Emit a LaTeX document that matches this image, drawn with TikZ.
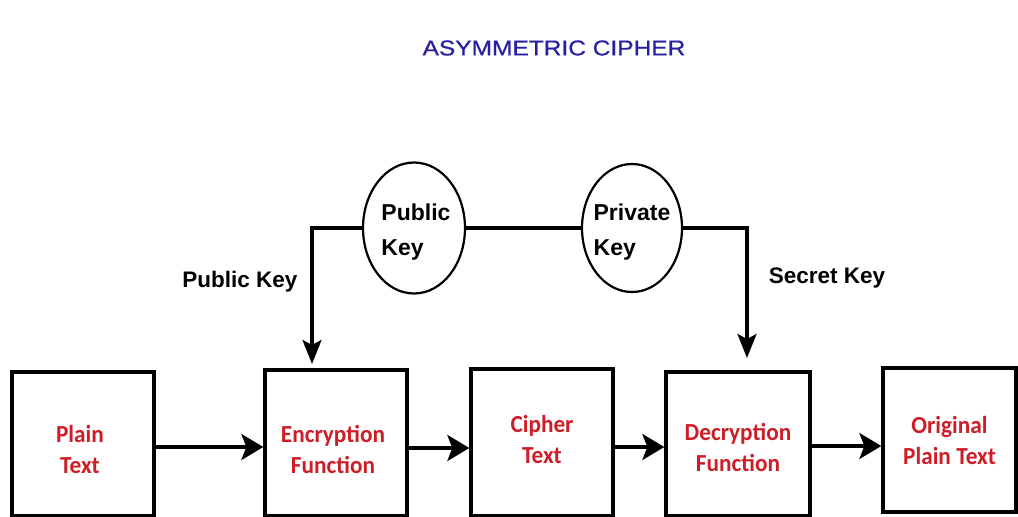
\documentclass[tikz,border=0pt]{standalone}
\usepackage{fontspec}
\setmainfont{Liberation Sans}
\newfontfamily\titlefont[FakeStretch=1.14,FakeBold=0.6]{Liberation Sans}
\newfontfamily\boxfont[FakeStretch=0.95]{Carlito}
\usetikzlibrary{arrows.meta,shapes.geometric}
\definecolor{titleblue}{RGB}{40,32,160}
\definecolor{boxred}{RGB}{205,30,40}
\begin{document}
\begin{tikzpicture}[x=1pt,y=-1pt,
  blk/.style={draw=black,line width=3.3pt,rectangle,inner sep=0pt},
  btxt/.style={inner sep=0pt,font=\boxfont\bfseries\fontsize{24.5}{31}\selectfont,text=boxred,align=center},
  keyell/.style={draw=black,line width=2.2pt,ellipse,inner sep=0pt},
  ktxt/.style={inner sep=0pt,font=\bfseries\fontsize{23}{35}\selectfont,align=left},
  lbl/.style={font=\bfseries\fontsize{22.5}{26}\selectfont},
  conn/.style={line width=3.2pt},
  harr/.style={conn,-{Stealth[length=22pt,width=26pt,inset=5pt]}},
  varr/.style={conn,-{Stealth[length=24pt,width=19pt,inset=5pt]}}]
\useasboundingbox[fill=white] (0,0) rectangle (1018,517);

\node[font=\titlefont\fontsize{21.5}{25}\selectfont,text=titleblue] (title) at (554,48) {ASYMMETRIC CIPHER};

\node[blk,minimum width=142pt,minimum height=144pt] (plain) at (83,444) {};
\node[blk,minimum width=142pt,minimum height=146pt] (enc) at (336,443) {};
\node[blk,minimum width=142pt,minimum height=147pt] (cipher) at (542,442.5) {};
\node[blk,minimum width=144pt,minimum height=144pt] (dec) at (738,444) {};
\node[blk,minimum width=133pt,minimum height=144pt] (orig) at (949.5,440) {};

\node[btxt] (plain-t) at ([xshift=-3pt,yshift=-5pt]plain.center) {Plain\\Text};
\node[btxt] (enc-t) at ([xshift=-3pt,yshift=-6pt]enc.center) {Encryption\\Function};
\node[btxt] (cipher-t) at ([yshift=3pt]cipher.center) {Cipher\\Text};
\node[btxt] (dec-t) at ([yshift=-3pt]dec.center) {Decryption\\Function};
\node[btxt] (orig-t) at (orig.center) {Original\\Plain Text};

\node[keyell,minimum width=102pt,minimum height=131pt] (pub) at (414,228) {};
\node[keyell,minimum width=100pt,minimum height=128pt] (priv) at (632,228) {};
\node[ktxt] (pub-t) at ([xshift=2pt,yshift=-4.5pt]pub.center) {Public\\Key};
\node[ktxt] (priv-t) at ([yshift=-4pt]priv.center) {Private\\Key};

\node[lbl] (publbl) at (240,282) {Public Key};
\node[lbl] (seclbl) at (827,278) {Secret Key};

\coordinate (t1) at (312,364);
\coordinate (t2) at (747,358);

\draw[conn] (pub.east) -- (priv.west);
\draw[varr] (pub.west) -| (t1);
\draw[varr] (priv.east) -| (t2);

\draw[harr] ([yshift=-3pt]plain.east) -- ([yshift=-3pt]plain.east -| enc.west);
\draw[harr] ([yshift=-5pt]enc.east) -- ([yshift=-5pt]enc.east -| cipher.west);
\draw[harr] ([yshift=-4.5pt]cipher.east) -- ([yshift=-4.5pt]cipher.east -| dec.west);
\draw[harr] ([yshift=-2pt]dec.east) -- ([yshift=-2pt]dec.east -| orig.west);
\end{tikzpicture}
\end{document}
